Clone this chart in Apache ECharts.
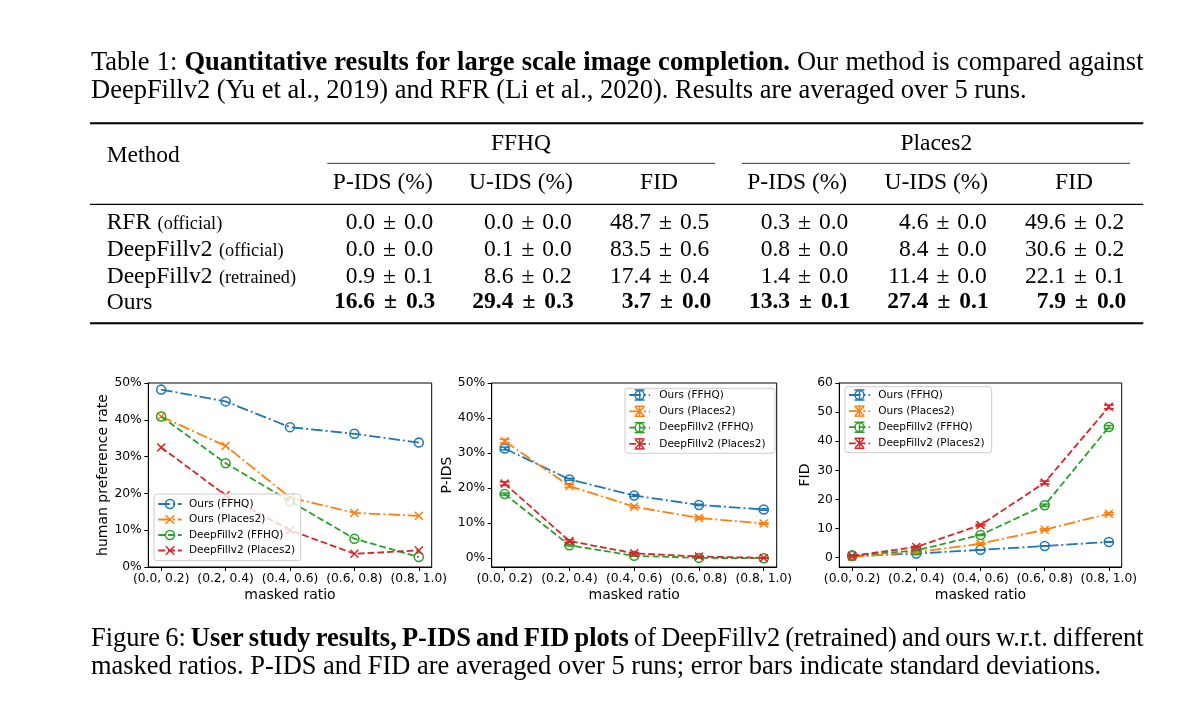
<!DOCTYPE html>
<html><head><meta charset="utf-8">
<script src="https://cdn.jsdelivr.net/npm/echarts@6/dist/echarts.min.js"></script>
<style>html,body{margin:0;padding:0;background:#fff}#c{width:1196px;height:717px}</style>
</head><body><div id="c"></div>
<script>
// ---------------- data ----------------
const categories = ['(0.0, 0.2)', '(0.2, 0.4)', '(0.4, 0.6)', '(0.6, 0.8)', '(0.8, 1.0)'];
const seriesNames = ['Ours (FFHQ)', 'Ours (Places2)', 'DeepFillv2 (FFHQ)', 'DeepFillv2 (Places2)'];

// human preference rate (%)
const prefOursFFHQ    = [48.2, 45.0, 38.0, 36.2, 33.8];
const prefOursPlaces2 = [40.9, 32.9, 18.9, 14.7, 13.9];
const prefDeepFFHQ    = [40.9, 28.2, 17.9, 7.7, 2.7];
const prefDeepPlaces2 = [32.5, 19.5, 10.0, 3.6, 4.5];

// P-IDS (%) mean and std
const pidsOursFFHQ    = [31.3, 22.5, 17.9, 15.2, 13.9];
const pidsOursPlaces2 = [33.4, 20.6, 14.7, 11.5, 9.9];
const pidsDeepFFHQ    = [18.3, 3.7, 0.7, 0.1, 0.0];
const pidsDeepPlaces2 = [21.3, 4.9, 1.4, 0.5, 0.1];
const pidsStdOursFFHQ    = [0.4, 0.3, 0.3, 0.2, 0.2];
const pidsStdOursPlaces2 = [0.5, 0.4, 0.3, 0.3, 0.2];
const pidsStdDeepFFHQ    = [0.3, 0.2, 0.1, 0.0, 0.0];
const pidsStdDeepPlaces2 = [0.5, 0.4, 0.2, 0.1, 0.0];

// FID mean and std
const fidOursFFHQ    = [0.6, 1.4, 2.7, 4.0, 5.4];
const fidOursPlaces2 = [0.2, 1.9, 4.8, 9.6, 15.1];
const fidDeepFFHQ    = [0.8, 2.5, 7.8, 18.0, 44.9];
const fidDeepPlaces2 = [0.6, 3.7, 11.2, 25.8, 51.8];
const fidStdOursFFHQ    = [0.1, 0.1, 0.1, 0.1, 0.1];
const fidStdOursPlaces2 = [0.1, 0.1, 0.2, 0.3, 0.4];
const fidStdDeepFFHQ    = [0.1, 0.1, 0.2, 0.4, 0.5];
const fidStdDeepPlaces2 = [0.1, 0.2, 0.3, 0.5, 0.6];

const pctTicks = [0, 10, 20, 30, 40, 50];
const fidTicks = [0, 10, 20, 30, 40, 50, 60];

// Table 1
const tableGroups = ['FFHQ', 'Places2'];
const tableHeaders = ['P-IDS (%)', 'U-IDS (%)', 'FID', 'P-IDS (%)', 'U-IDS (%)', 'FID'];
const tableMethods = ['RFR', 'DeepFillv2', 'DeepFillv2', 'Ours'];
const tableNotes = ['(official)', '(official)', '(retrained)', ''];
const rowRFRMean   = [0.0, 0.0, 48.7, 0.3, 4.6, 49.6];
const rowRFRStd    = [0.0, 0.0, 0.5, 0.0, 0.0, 0.2];
const rowDFOffMean = [0.0, 0.1, 83.5, 0.8, 8.4, 30.6];
const rowDFOffStd  = [0.0, 0.0, 0.6, 0.0, 0.0, 0.2];
const rowDFReMean  = [0.9, 8.6, 17.4, 1.4, 11.4, 22.1];
const rowDFReStd   = [0.1, 0.2, 0.4, 0.0, 0.0, 0.1];
const rowOursMean  = [16.6, 29.4, 3.7, 13.3, 27.4, 7.9];
const rowOursStd   = [0.3, 0.3, 0.0, 0.1, 0.1, 0.0];

const tableCap1 = [{t:'Table 1:', b:false}, {t:'Quantitative results for large scale image completion.', b:true}, {t:'Our method is compared against', b:false}];
const tableCap2 = [{t:'DeepFillv2 (Yu et al., 2019) and RFR (Li et al., 2020). Results are averaged over 5 runs.', b:false}];
const figCap1 = [{t:'Figure 6:', b:false}, {t:'User study results, P-IDS and FID plots', b:true}, {t:'of DeepFillv2 (retrained) and ours w.r.t. different', b:false}];
const figCap2 = [{t:'masked ratios. P-IDS and FID are averaged over 5 runs; error bars indicate standard deviations.', b:false}];

// ---------------- styles ----------------
const colors = ['#1f77b4', '#ff7f0e', '#2ca02c', '#d62728'];
const DASHDOT = [11.5, 3, 2, 3];
const DASHED = [6.8, 3];
const dashes = [DASHDOT, DASHDOT, DASHED, DASHED];
const isRing = [true, false, true, false];
const RING = 'path://M0,-10A10,10 0 1,1 0,10A10,10 0 1,1 0,-10ZM0,-7.1A7.1,7.1 0 1,0 0,7.1A7.1,7.1 0 1,0 0,-7.1Z';
const XMARK = 'path://M-10,-7.64L-7.64,-10L0,-2.36L7.64,-10L10,-7.64L2.36,0L10,7.64L7.64,10L0,2.36L-7.64,10L-10,7.64L-2.36,0Z';
const SERIF = '"Liberation Serif", "Times New Roman", serif';
const SANS = '"DejaVu Sans", sans-serif';

const mctx = document.createElement('canvas').getContext('2d');
function serifFont(size, bold) { return (bold ? 'bold ' : '') + size + 'px ' + SERIF; }
function tw(text, size, bold) { mctx.font = serifFont(size, bold); return mctx.measureText(text).width; }

const g = [];
function addText(x, baseline, text, size, bold, align) {
  g.push({type: 'text', x: x, y: baseline - 0.3375 * size, silent: true, z: 20,
    style: {text: text, font: serifFont(size, bold), fill: '#000', textAlign: align || 'left', textVerticalAlign: 'middle', align: align || 'left', verticalAlign: 'middle'}});
}
function words(segs) {
  const out = [];
  segs.forEach(s => s.t.split(' ').filter(w => w).forEach(w => out.push({w: w, b: s.b})));
  return out;
}
function naturalWidth(segs, size) {
  const ws = words(segs);
  return ws.reduce((a, o) => a + tw(o.w, size, o.b), 0) + (ws.length - 1) * tw(' ', size, false);
}
function layoutLine(segs, x0, x1, baseline, size, justify) {
  const ws = words(segs);
  const widths = ws.map(o => tw(o.w, size, o.b));
  const sum = widths.reduce((a, b) => a + b, 0);
  const gap = justify ? (x1 - x0 - sum) / (ws.length - 1) : tw(' ', size, false);
  let x = x0;
  ws.forEach((o, i) => { addText(x, baseline, o.w, size, o.b); x += widths[i] + gap; });
}
function hline(x1, x2, y, w) {
  g.push({type: 'line', silent: true, z: 20, shape: {x1: x1, y1: y, x2: x2, y2: y}, style: {stroke: '#000', lineWidth: w}});
}

// ---------------- captions ----------------
const capX0 = 91, capX1 = 1143.5;
const fsT = 24 * (1026.8 - capX0) / naturalWidth(tableCap2, 24);
layoutLine(tableCap1, capX0, capX1, 72.3, fsT, true);
layoutLine(tableCap2, capX0, capX1, 100.3, fsT, false);
const fsF = 24 * (1101.7 - capX0) / naturalWidth(figCap2, 24);
layoutLine(figCap1, capX0, capX1, 648.3, fsF, true);
layoutLine(figCap2, capX0, capX1, 675.7, fsF, false);

// ---------------- table ----------------
const TFS = 23.5, NOTE_FS = 18.3;
hline(90, 1143.3, 123.3, 1.9);
hline(327.3, 715, 163.3, 0.8);
hline(741.7, 1130, 163.3, 0.8);
hline(90, 1143.3, 204.3, 1.2);
hline(90, 1143.3, 323.3, 1.9);
addText(106.7, 164, 'Method', TFS, false);
const groupCenters = [521, 936.3];
tableGroups.forEach((t, i) => addText(groupCenters[i], 151.7, t, TFS, false, 'center'));
const headCenters = [382.8, 521, 659, 797.2, 936.3, 1074];
tableHeaders.forEach((t, i) => addText(headCenters[i], 191, t, TFS, false, 'center'));
const colRight = [433.3, 571.7, 709.3, 848.3, 986.7, 1124.3];
const rowBase = [230.5, 257.3, 284.5, 310.3];
const rowsMean = [rowRFRMean, rowDFOffMean, rowDFReMean, rowOursMean];
const rowsStd = [rowRFRStd, rowDFOffStd, rowDFReStd, rowOursStd];
tableMethods.forEach((m, r) => {
  addText(106.7, rowBase[r], m, TFS, false);
  if (tableNotes[r]) addText(106.7 + tw(m, TFS, false) + 6.5, rowBase[r], tableNotes[r], NOTE_FS, false);
  const bold = r === 3;
  const gapPM = bold ? 9 : 8;
  rowsMean[r].forEach((v, c) => {
    const right = colRight[c] + (bold ? 2 : 0);
    const sTxt = rowsStd[r][c].toFixed(1), mTxt = v.toFixed(1);
    const ws = tw(sTxt, TFS, bold), wpm = tw('±', TFS, bold);
    addText(right - ws, rowBase[r], sTxt, TFS, bold);
    addText(right - ws - gapPM - wpm, rowBase[r], '±', TFS, bold);
    addText(right - ws - gapPM - wpm - gapPM, rowBase[r], mTxt, TFS, bold, 'right');
  });
});

// ---------------- legends ----------------
function buildLegend(box, lx0, lx1, tx, ys, withErr) {
  g.push({type: 'rect', silent: true, z: 30, shape: {x: box[0], y: box[1], width: box[2] - box[0], height: box[3] - box[1], r: 3},
    style: {fill: 'rgba(255,255,255,0.8)', stroke: '#cccccc', lineWidth: 1}});
  seriesNames.forEach((name, i) => {
    const y = ys[i], c = colors[i], mx = (lx0 + lx1) / 2;
    g.push({type: 'line', silent: true, z: 31, shape: {x1: lx0, y1: y, x2: lx1, y2: y}, style: {stroke: c, lineWidth: 1.8, lineDash: dashes[i]}});
    if (withErr) {
      const h = 5, cw = 5;
      g.push({type: 'line', silent: true, z: 32, shape: {x1: mx, y1: y - h, x2: mx, y2: y + h}, style: {stroke: c, lineWidth: 1.5}});
      g.push({type: 'line', silent: true, z: 32, shape: {x1: mx - cw, y1: y - h, x2: mx + cw, y2: y - h}, style: {stroke: c, lineWidth: 1.5}});
      g.push({type: 'line', silent: true, z: 32, shape: {x1: mx - cw, y1: y + h, x2: mx + cw, y2: y + h}, style: {stroke: c, lineWidth: 1.5}});
    }
    if (isRing[i]) {
      g.push({type: 'circle', silent: true, z: 33, shape: {cx: mx, cy: y, r: 4.5}, style: {fill: 'none', stroke: c, lineWidth: 1.5}});
    } else {
      const s = 4.3;
      g.push({type: 'line', silent: true, z: 33, shape: {x1: mx - s, y1: y - s, x2: mx + s, y2: y + s}, style: {stroke: c, lineWidth: 1.5}});
      g.push({type: 'line', silent: true, z: 33, shape: {x1: mx - s, y1: y + s, x2: mx + s, y2: y - s}, style: {stroke: c, lineWidth: 1.5}});
    }
    g.push({type: 'text', silent: true, z: 33, x: tx, y: y, style: {text: name, font: '10.5px ' + SANS, fill: '#000', textVerticalAlign: 'middle', verticalAlign: 'middle'}});
  });
}
buildLegend([154, 494, 300.7, 560.7], 158.3, 181.7, 189, [504, 519.5, 535, 550.5], false);
buildLegend([625, 388.3, 775, 453.3], 629.3, 650, 659.3, [395, 411.3, 427.6, 443.9], true);
buildLegend([845, 386.7, 991.7, 452.7], 849, 870, 878.3, [395, 411.1, 427.2, 443.3], true);

// ---------------- charts ----------------
const catIdx = [0, 1, 2, 3, 4];
const tickFont = {color: '#000', fontSize: 12.3, fontFamily: SANS};
const nameFont = {color: '#000', fontSize: 14, fontFamily: SANS};
const grids = [
  {left: 148.3, top: 383, width: 283.4, height: 184},
  {left: 491.7, top: 383, width: 285, height: 184},
  {left: 839.3, top: 383, width: 282.4, height: 184}
].map(o => Object.assign(o, {show: true, borderColor: '#000', borderWidth: 1, backgroundColor: 'transparent', containLabel: false, outerBoundsMode: 'none'}));

const xAxes = [0, 1, 2].map(i => ({
  type: 'value', gridIndex: i, min: -0.2, max: 4.2,
  axisLine: {show: true, onZero: false, lineStyle: {color: '#000', width: 1}},
  splitLine: {show: false},
  axisTick: {show: true, customValues: catIdx, length: 4, lineStyle: {color: '#000', width: 1}},
  axisLabel: {show: true, customValues: catIdx, formatter: v => categories[Math.round(v)], margin: 6, ...tickFont},
  name: 'masked ratio', nameLocation: 'middle', nameGap: 21, nameTextStyle: nameFont
}));
function yAxis(i, min, max, ticks, pct, name, gap) {
  return {
    type: 'value', gridIndex: i, min: min, max: max,
    axisLine: {show: true, onZero: false, lineStyle: {color: '#000', width: 1}},
    splitLine: {show: false},
    axisTick: {show: true, customValues: ticks, length: 4, lineStyle: {color: '#000', width: 1}},
    axisLabel: {show: true, customValues: ticks, formatter: v => pct ? Math.round(v) + '%' : String(Math.round(v)), margin: 6.5, ...tickFont},
    name: name, nameLocation: 'middle', nameGap: gap, nameTextStyle: nameFont
  };
}
const yAxes = [
  yAxis(0, 0, 50, pctTicks, true, 'human preference rate', 38),
  yAxis(1, -2.5, 50, pctTicks, true, 'P-IDS', 37.4),
  yAxis(2, -3.2, 60, fidTicks, false, 'FID', 27.3)
];

function lineSeries(idx, values, ai) {
  return {
    type: 'line', name: seriesNames[idx] + ' #' + ai, xAxisIndex: ai, yAxisIndex: ai,
    data: values.map((v, i) => [i, v]),
    symbol: isRing[idx] ? RING : XMARK, symbolSize: isRing[idx] ? 10.5 : 9,
    lineStyle: {color: colors[idx], width: 1.8, type: dashes[idx]},
    itemStyle: {color: colors[idx]}, z: 2 + idx * 2, silent: true, animation: false,
    emphasis: {disabled: true}, clip: false
  };
}
function errRender(params, api) {
  const x = api.value(0), y = api.value(1), e = api.value(2);
  const pt = api.coord([x, y + e]), pb = api.coord([x, y - e]);
  const cw = 5, st = {stroke: api.visual('color'), lineWidth: 1.5};
  return {type: 'group', children: [
    {type: 'line', shape: {x1: pt[0], y1: pt[1], x2: pb[0], y2: pb[1]}, style: st},
    {type: 'line', shape: {x1: pt[0] - cw, y1: pt[1], x2: pt[0] + cw, y2: pt[1]}, style: st},
    {type: 'line', shape: {x1: pb[0] - cw, y1: pb[1], x2: pb[0] + cw, y2: pb[1]}, style: st}
  ]};
}
function errSeries(idx, values, std, ai) {
  return {
    type: 'custom', name: seriesNames[idx] + ' err #' + ai, xAxisIndex: ai, yAxisIndex: ai,
    data: values.map((v, i) => [i, v, std[i]]), encode: {x: 0, y: 1},
    renderItem: errRender, itemStyle: {color: colors[idx]}, z: 3 + idx * 2,
    silent: true, animation: false, clip: false
  };
}

const series = [
  lineSeries(0, prefOursFFHQ, 0), lineSeries(1, prefOursPlaces2, 0),
  lineSeries(2, prefDeepFFHQ, 0), lineSeries(3, prefDeepPlaces2, 0),
  lineSeries(0, pidsOursFFHQ, 1), errSeries(0, pidsOursFFHQ, pidsStdOursFFHQ, 1),
  lineSeries(1, pidsOursPlaces2, 1), errSeries(1, pidsOursPlaces2, pidsStdOursPlaces2, 1),
  lineSeries(2, pidsDeepFFHQ, 1), errSeries(2, pidsDeepFFHQ, pidsStdDeepFFHQ, 1),
  lineSeries(3, pidsDeepPlaces2, 1), errSeries(3, pidsDeepPlaces2, pidsStdDeepPlaces2, 1),
  lineSeries(0, fidOursFFHQ, 2), errSeries(0, fidOursFFHQ, fidStdOursFFHQ, 2),
  lineSeries(1, fidOursPlaces2, 2), errSeries(1, fidOursPlaces2, fidStdOursPlaces2, 2),
  lineSeries(2, fidDeepFFHQ, 2), errSeries(2, fidDeepFFHQ, fidStdDeepFFHQ, 2),
  lineSeries(3, fidDeepPlaces2, 2), errSeries(3, fidDeepPlaces2, fidStdDeepPlaces2, 2)
];

const chart = echarts.init(document.getElementById('c'), null, {renderer: 'canvas', width: 1196, height: 717});
chart.setOption({
  animation: false,
  backgroundColor: '#fff',
  grid: grids, xAxis: xAxes, yAxis: yAxes, series: series,
  graphic: {elements: g}
});
</script></body></html>
